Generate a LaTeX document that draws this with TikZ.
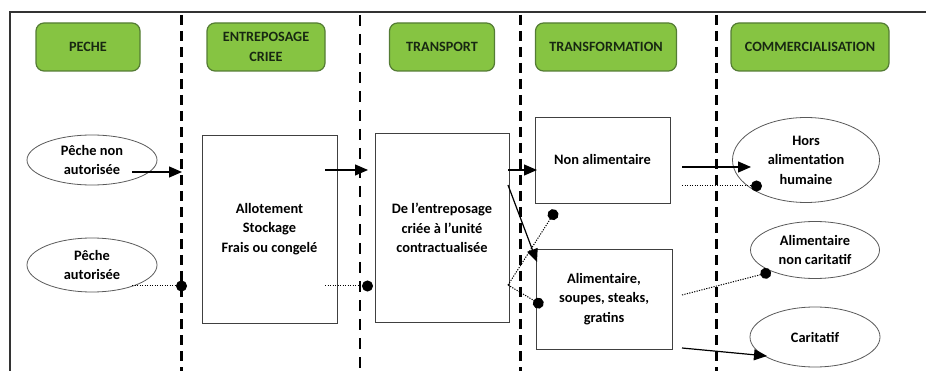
\documentclass[tikz,border=0pt]{standalone}
\usepackage{fontspec}
\setmainfont{Carlito}
\usepackage{xcolor}
\usetikzlibrary{shapes.geometric, arrows.meta}

\definecolor{stagegreen}{RGB}{134,196,66}
\definecolor{stageedge}{RGB}{84,124,52}
\definecolor{stagetext}{RGB}{24,40,18}

\tikzset{
	stage/.style = {draw = stageedge, line width = 1.2pt, fill = stagegreen, rounded corners = 8pt,
		minimum height = 48pt, inner sep = 0pt, align = center, text = stagetext,
		font = \fontsize{14.2}{20}\selectfont\bfseries},
	bloc/.style = {draw = black!75, line width = 0.9pt, inner sep = 0pt, align = center,
		font = \fontsize{14.4}{19.5}\selectfont\bfseries},
	issue/.style = {bloc, ellipse, draw = black!65, line width = 0.8pt},
	frontier/.style = {line width = 3pt, dash pattern = on 10pt off 6pt},
	flow/.style = {line width = 1.2pt, -{Triangle[length = 13pt, width = 11pt]}},
	leak/.style = {line width = 1pt, dash pattern = on 1.2pt off 1.3pt, -{Circle[length = 11pt, sep = 0pt]}},
}

\begin{document}
\begin{tikzpicture}[x = 1pt, y = -1pt]
		\useasboundingbox (0,0) rectangle (926,371);

		% cadre
		\draw [line width = 1.4pt, black!80] (926,12) -- (10,12) -- (10,371);

		% frontieres entre les etapes
		\draw [frontier] (181,15) -- (181,371);
		\draw [frontier, line width = 2pt, dash pattern = on 11pt off 8pt] (360,15) -- (360,371);
		\draw [frontier] (520,15) -- (520,371);
		\draw [frontier] (716,15) -- (716,371);

		% etapes de la filiere
		\node (peche) at (88,47) [stage, minimum width = 104pt] {PECHE};
		\node (criee) at (266,47) [stage, minimum width = 118pt] {ENTREPOSAGE\\CRIEE};
		\node (transport) at (442,47) [stage, minimum width = 105pt] {TRANSPORT};
		\node (transfo) at (606,47) [stage, minimum width = 141pt] {TRANSFORMATION};
		\node (commerce) at (810,47) [stage, minimum width = 158pt] {COMMERCIALISATION};

		\node (nonaut) at (92,160) [issue, minimum width = 130pt, minimum height = 50pt] {Pêche non\\autorisée};
		\node (aut) at (92,265) [issue, minimum width = 130pt, minimum height = 54pt] {Pêche\\autorisée};

		\node (allot) at (269.5,229) [bloc, minimum width = 135pt, minimum height = 188pt] {Allotement\\Stockage\\Frais ou congelé};
		\node (unite) at (442,228) [bloc, minimum width = 134pt, minimum height = 189pt] {De l’entreposage\\criée à l’unité\\contractualisée};

		\node (nonalim) at (602.5,160) [bloc, minimum width = 135pt, minimum height = 86pt] {Non alimentaire};
		\node (alim) at (604,299) [bloc, minimum width = 136pt, minimum height = 100pt] {Alimentaire,\\soupes, steaks,\\gratins};

		\node (hors) at (806,160) [issue, minimum width = 147pt, minimum height = 85pt] {Hors\\alimentation\\humaine};
		\node (noncarit) at (815,250) [issue, minimum width = 129pt, minimum height = 57pt] {Alimentaire\\non caritatif};
		\node (carit) at (815,337) [issue, minimum width = 130pt, minimum height = 60pt] {Caritatif};

		% points de depart et d'arrivee des flux
		\coordinate (p1) at (132,172);
		\coordinate (p2) at (182,172);
		\coordinate (p3) at (325,170);
		\coordinate (p4) at (368,170);
		\coordinate (p5) at (508,170);
		\coordinate (p6) at (508,185);
		\coordinate (p7) at (537,262);
		\coordinate (p8) at (682,167);
		\coordinate (p9) at (751,167);
		\coordinate (p10) at (682,348);
		\coordinate (p11) at (767,356);

		\coordinate (q1) at (132,286);
		\coordinate (q2) at (187,286);
		\coordinate (q3) at (325,286);
		\coordinate (q4) at (373,286);
		\coordinate (q5) at (508,285);
		\coordinate (q6) at (556,210);
		\coordinate (q7) at (543,306);
		\coordinate (q8) at (682,186);
		\coordinate (q9) at (762,186);
		\coordinate (q10) at (682,295);
		\coordinate (q11) at (771,272);

		% flux pleins
		\draw [flow] (p1) -- (p2);
		\draw [flow] (p3) -- (p4);
		\draw [flow] (p5) -- (p7 |- p5);
		\draw [flow] (p6) -- (p7);
		\draw [flow] (p8) -- (p9);
		\draw [flow] (p10) -- (p11);

		% flux pointilles
		\draw [leak] (q1) -- (q2);
		\draw [leak] (q3) -- (q4);
		\draw [leak] (q5) -- (q6);
		\draw [leak] (q5) -- (q7);
		\draw [leak] (q8) -- (q9);
		\draw [leak] (q10) -- (q11);
	\end{tikzpicture}
\end{document}
